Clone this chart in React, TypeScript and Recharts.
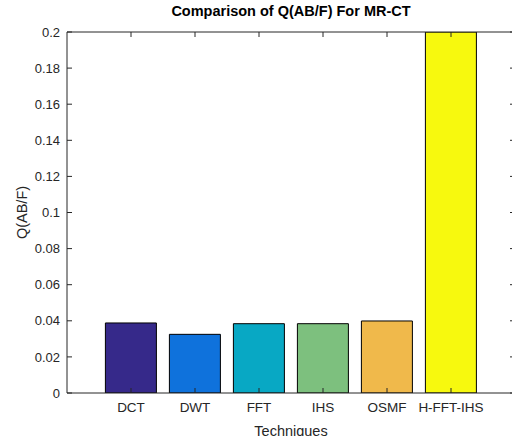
import { BarChart, Bar, XAxis, YAxis, Cell, Label } from "recharts";

const techniques = ["DCT", "DWT", "FFT", "IHS", "OSMF", "H-FFT-IHS"];
const qabf = [0.0388, 0.0325, 0.0384, 0.0384, 0.0399, 0.2];
const barColors = ["#36298a", "#0f72dc", "#08a8c4", "#7dc07e", "#f0b94b", "#f7f90e"];
const yTicks = [0, 0.02, 0.04, 0.06, 0.08, 0.1, 0.12, 0.14, 0.16, 0.18, 0.2];

const data = techniques.map((name, i) => ({ name, value: qabf[i] }));

const ink = "#262626";
const font = "'Liberation Sans', Arial, sans-serif";
const blank = () => "";

export default function App() {
  return (
    <div style={{ position: "fixed", left: 0, top: 0, width: 512, height: 436, overflow: "hidden", background: "#fff", fontFamily: font }}>
      <div style={{ position: "absolute", left: 67, width: 448, top: 3, textAlign: "center", fontSize: 14.5, fontWeight: "bold", color: "#000" }}>
        Comparison of Q(AB/F) For MR-CT
      </div>
      <BarChart
        width={530}
        height={436}
        data={data}
        margin={{ top: 32, right: 15, bottom: 0, left: 0 }}
        barCategoryGap="10%"
      >
        <XAxis
          dataKey="name"
          xAxisId="bottom"
          orientation="bottom"
          height={43}
          padding={{ left: 32, right: 32 }}
          stroke={ink}
          tickSize={-5}
          tickMargin={14}
          tick={{ fill: ink, fontSize: 13.5, fontFamily: font }}
          interval={0}
        >
          <Label value="Techniques" position="insideBottom" offset={0} fill={ink} fontSize={14.5} fontFamily={font} />
        </XAxis>
        <XAxis
          dataKey="name"
          xAxisId="top"
          orientation="top"
          height={10}
          mirror
          padding={{ left: 32, right: 32 }}
          stroke={ink}
          tickSize={5}
          tickFormatter={blank}
          interval={0}
        />
        <YAxis
          yAxisId="left"
          domain={[0, 0.2]}
          ticks={yTicks}
          allowDataOverflow
          width={67}
          stroke={ink}
          tickSize={-5}
          tickMargin={12}
          tick={{ fill: ink, fontSize: 13, fontFamily: font }}
          tickFormatter={(v: number) => String(Number(v.toFixed(2)))}
        >
          <Label value="Q(AB/F)" angle={-90} position="insideLeft" offset={22} fill={ink} fontSize={14.5} fontFamily={font} style={{ textAnchor: "middle" }} />
        </YAxis>
        <YAxis
          yAxisId="right"
          orientation="right"
          mirror
          domain={[0, 0.2]}
          ticks={yTicks}
          allowDataOverflow
          width={10}
          stroke={ink}
          tickSize={5}
          tickFormatter={blank}
        />
        <Bar dataKey="value" xAxisId="bottom" yAxisId="left" stroke="#000" strokeWidth={1} isAnimationActive={false}>
          {data.map((d, i) => (
            <Cell key={d.name} fill={barColors[i]} />
          ))}
        </Bar>
        <Bar dataKey="value" xAxisId="top" yAxisId="right" fill="none" stroke="none" isAnimationActive={false} />
      </BarChart>
    </div>
  );
}
